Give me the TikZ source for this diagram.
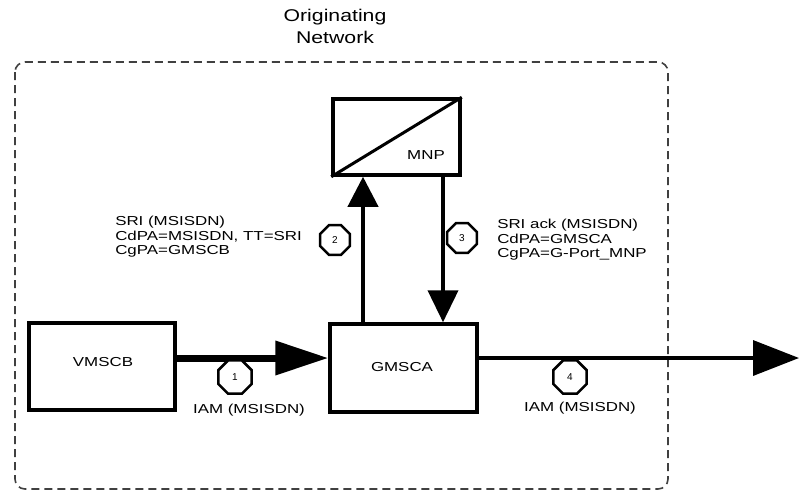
\documentclass[tikz,border=0pt]{standalone}
\usepackage{fontspec}
\setmainfont{Liberation Sans}
\usepackage{tikz}
\usetikzlibrary{arrows.meta,shapes.geometric}

\tikzset{
  box/.style={draw,line width=3.5pt,inner sep=0pt},
  lbl/.style={font=\fontsize{13}{14.5}\selectfont,xscale=1.3,inner sep=0pt},
  num/.style={draw,regular polygon,regular polygon sides=8,line width=2.5pt,
    minimum size=36pt,inner sep=0pt,fill=white,font=\fontsize{10}{10}\selectfont},
}

\begin{document}
\begin{tikzpicture}[x=1pt,y=-1pt,line cap=butt]
\useasboundingbox (0,0) rectangle (799,491);
% network border
\draw[black!75,line width=1.6pt,dash pattern=on 8pt off 5pt,rounded corners=10pt] (15,62) rectangle (668,489);
\node[lbl,font=\fontsize{17}{22}\selectfont,xscale=1.25/1.3,align=center] (title) at (335,26) {Originating\\Network};
% boxes
\node[box,minimum width=146pt,minimum height=87pt] (vmscb) at (102,366.5) {};
\node[lbl] (vmscbtxt) at (103,362) {VMSCB};
\node[box,minimum width=147pt,minimum height=88pt] (gmsca) at (403.5,368) {};
\node[lbl] (gmscatxt) at (402,367) {GMSCA};
\node[box,minimum width=127pt,minimum height=76pt] (mnp) at (396.5,137) {};
\draw[line width=3pt] (mnp.south west) -- (mnp.north east);
\node[lbl] (mnptxt) at (426,155) {MNP};
\coordinate (up) at (363,0);
\coordinate (down) at (443,0);
\coordinate (out) at (799,358);
% messages
\draw[line width=7pt,-{Triangle[length=53pt,width=33pt]}] ([yshift=8.5pt]vmscb.east) -- ([yshift=10pt]gmsca.west);
\draw[line width=4pt,-{Triangle[length=30pt,width=30pt]}] (gmsca.north -| up) -- (mnp.south -| up);
\draw[line width=4pt,-{Triangle[length=32pt,width=30pt]}] (mnp.south -| down) -- (gmsca.north -| down);
\draw[line width=3.5pt,-{Triangle[length=46pt,width=35pt]}] ([yshift=10pt]gmsca.east) -- (out);
% step numbers
\node[num] (n1) at (235,377) {1};
\node[num,minimum size=32pt] (n2) at (335,240) {2};
\node[num,minimum size=32pt] (n3) at (462,238) {3};
\node[num] (n4) at (570,377) {4};
\node[lbl] (iam1) at (249,410) {IAM (MSISDN)};
\node[lbl] (iam4) at (580,408) {IAM (MSISDN)};
\node[lbl,anchor=west,align=left] (sri) at (115,237) {SRI (MSISDN)\\CdPA=MSISDN, TT=SRI\\CgPA=GMSCB};
\node[lbl,anchor=west,align=left] (sriack) at (497,240) {SRI ack (MSISDN)\\CdPA=GMSCA\\CgPA=G-Port\_MNP};
\end{tikzpicture}
\end{document}
